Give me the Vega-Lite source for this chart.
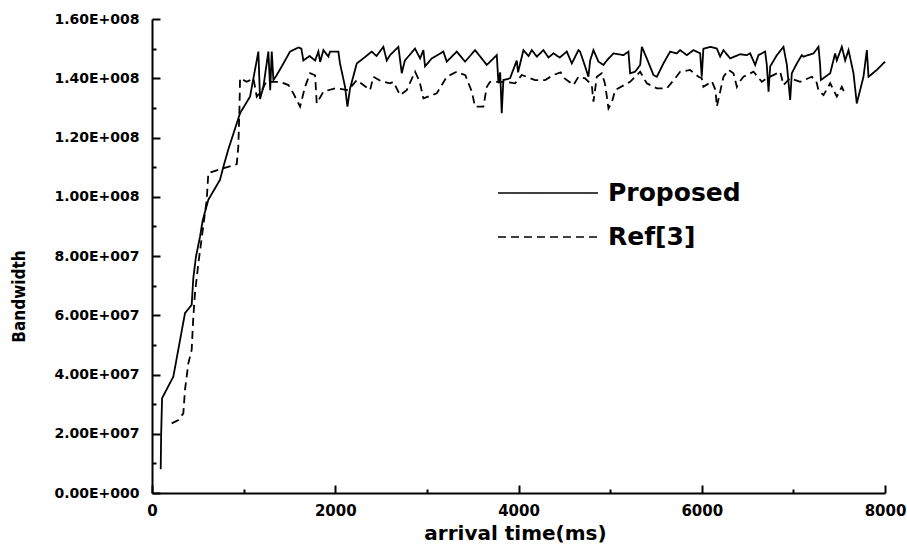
{
  "$schema": "https://vega.github.io/schema/vega-lite/v6.json",
  "width": 733,
  "height": 474,
  "autosize": "none",
  "padding": {"left": 152, "top": 19, "right": 22, "bottom": 53},
  "background": "white",
  "config": {
    "view": {"stroke": null},
    "axis": {"grid": false, "domainColor": "black", "tickColor": "black", "labelColor": "black", "titleColor": "black", "domainWidth": 2, "tickWidth": 2},
    "legend": {"orient": "none", "legendX": 365, "legendY": 143, "symbolType": "M-1.667,0H1.667", "symbolSize": 3600, "symbolStrokeWidth": 1.6, "symbolStrokeColor": "black", "symbolFillColor": "transparent", "labelFont": "DejaVu Sans", "labelFontWeight": "bold", "labelFontSize": 25, "labelColor": "black", "labelOffset": 29, "padding": 0, "rowPadding": 0}
  },
  "data": {
    "values": [
      {"series": "Proposed", "t": 95, "bw": 8000000},
      {"series": "Proposed", "t": 100, "bw": 20000000},
      {"series": "Proposed", "t": 110, "bw": 32000000},
      {"series": "Proposed", "t": 233, "bw": 39300000},
      {"series": "Proposed", "t": 360, "bw": 60700000},
      {"series": "Proposed", "t": 433, "bw": 63500000},
      {"series": "Proposed", "t": 451, "bw": 72600000},
      {"series": "Proposed", "t": 480, "bw": 79800000},
      {"series": "Proposed", "t": 524, "bw": 86500000},
      {"series": "Proposed", "t": 553, "bw": 92000000},
      {"series": "Proposed", "t": 615, "bw": 99000000},
      {"series": "Proposed", "t": 742, "bw": 105700000},
      {"series": "Proposed", "t": 778, "bw": 110000000},
      {"series": "Proposed", "t": 833, "bw": 116000000},
      {"series": "Proposed", "t": 961, "bw": 128200000},
      {"series": "Proposed", "t": 1070, "bw": 133800000},
      {"series": "Proposed", "t": 1161, "bw": 149000000},
      {"series": "Proposed", "t": 1179, "bw": 133000000},
      {"series": "Proposed", "t": 1215, "bw": 137000000},
      {"series": "Proposed", "t": 1270, "bw": 149000000},
      {"series": "Proposed", "t": 1290, "bw": 136000000},
      {"series": "Proposed", "t": 1307, "bw": 149000000},
      {"series": "Proposed", "t": 1325, "bw": 139400000},
      {"series": "Proposed", "t": 1360, "bw": 141000000},
      {"series": "Proposed", "t": 1416, "bw": 144000000},
      {"series": "Proposed", "t": 1507, "bw": 149000000},
      {"series": "Proposed", "t": 1598, "bw": 150400000},
      {"series": "Proposed", "t": 1630, "bw": 150000000},
      {"series": "Proposed", "t": 1652, "bw": 146000000},
      {"series": "Proposed", "t": 1720, "bw": 147500000},
      {"series": "Proposed", "t": 1780, "bw": 146000000},
      {"series": "Proposed", "t": 1816, "bw": 149000000},
      {"series": "Proposed", "t": 1835, "bw": 145500000},
      {"series": "Proposed", "t": 1871, "bw": 149500000},
      {"series": "Proposed", "t": 1925, "bw": 147300000},
      {"series": "Proposed", "t": 1943, "bw": 149000000},
      {"series": "Proposed", "t": 2034, "bw": 149000000},
      {"series": "Proposed", "t": 2052, "bw": 145000000},
      {"series": "Proposed", "t": 2107, "bw": 137100000},
      {"series": "Proposed", "t": 2133, "bw": 130400000},
      {"series": "Proposed", "t": 2162, "bw": 136600000},
      {"series": "Proposed", "t": 2235, "bw": 145000000},
      {"series": "Proposed", "t": 2307, "bw": 146700000},
      {"series": "Proposed", "t": 2398, "bw": 149000000},
      {"series": "Proposed", "t": 2450, "bw": 147500000},
      {"series": "Proposed", "t": 2525, "bw": 150600000},
      {"series": "Proposed", "t": 2562, "bw": 146000000},
      {"series": "Proposed", "t": 2598, "bw": 147800000},
      {"series": "Proposed", "t": 2689, "bw": 150600000},
      {"series": "Proposed", "t": 2726, "bw": 141700000},
      {"series": "Proposed", "t": 2760, "bw": 146000000},
      {"series": "Proposed", "t": 2871, "bw": 150000000},
      {"series": "Proposed", "t": 2926, "bw": 146700000},
      {"series": "Proposed", "t": 2962, "bw": 149500000},
      {"series": "Proposed", "t": 2980, "bw": 144000000},
      {"series": "Proposed", "t": 3053, "bw": 146700000},
      {"series": "Proposed", "t": 3180, "bw": 149000000},
      {"series": "Proposed", "t": 3217, "bw": 145600000},
      {"series": "Proposed", "t": 3326, "bw": 149000000},
      {"series": "Proposed", "t": 3417, "bw": 145600000},
      {"series": "Proposed", "t": 3526, "bw": 149500000},
      {"series": "Proposed", "t": 3654, "bw": 144500000},
      {"series": "Proposed", "t": 3763, "bw": 147800000},
      {"series": "Proposed", "t": 3781, "bw": 138300000},
      {"series": "Proposed", "t": 3800, "bw": 142000000},
      {"series": "Proposed", "t": 3817, "bw": 128200000},
      {"series": "Proposed", "t": 3835, "bw": 139400000},
      {"series": "Proposed", "t": 3908, "bw": 140000000},
      {"series": "Proposed", "t": 3981, "bw": 146000000},
      {"series": "Proposed", "t": 3995, "bw": 142000000},
      {"series": "Proposed", "t": 4054, "bw": 149500000},
      {"series": "Proposed", "t": 4110, "bw": 147500000},
      {"series": "Proposed", "t": 4145, "bw": 149500000},
      {"series": "Proposed", "t": 4200, "bw": 147300000},
      {"series": "Proposed", "t": 4272, "bw": 149500000},
      {"series": "Proposed", "t": 4327, "bw": 147000000},
      {"series": "Proposed", "t": 4381, "bw": 148400000},
      {"series": "Proposed", "t": 4450, "bw": 147000000},
      {"series": "Proposed", "t": 4527, "bw": 149000000},
      {"series": "Proposed", "t": 4582, "bw": 145000000},
      {"series": "Proposed", "t": 4654, "bw": 149500000},
      {"series": "Proposed", "t": 4672, "bw": 149000000},
      {"series": "Proposed", "t": 4727, "bw": 144000000},
      {"series": "Proposed", "t": 4763, "bw": 140500000},
      {"series": "Proposed", "t": 4782, "bw": 146000000},
      {"series": "Proposed", "t": 4818, "bw": 149500000},
      {"series": "Proposed", "t": 4873, "bw": 145600000},
      {"series": "Proposed", "t": 4927, "bw": 144500000},
      {"series": "Proposed", "t": 4964, "bw": 146000000},
      {"series": "Proposed", "t": 5036, "bw": 148400000},
      {"series": "Proposed", "t": 5146, "bw": 147800000},
      {"series": "Proposed", "t": 5200, "bw": 149000000},
      {"series": "Proposed", "t": 5218, "bw": 141700000},
      {"series": "Proposed", "t": 5273, "bw": 142200000},
      {"series": "Proposed", "t": 5328, "bw": 144500000},
      {"series": "Proposed", "t": 5346, "bw": 150600000},
      {"series": "Proposed", "t": 5400, "bw": 146700000},
      {"series": "Proposed", "t": 5473, "bw": 141100000},
      {"series": "Proposed", "t": 5510, "bw": 140500000},
      {"series": "Proposed", "t": 5582, "bw": 145000000},
      {"series": "Proposed", "t": 5655, "bw": 149000000},
      {"series": "Proposed", "t": 5728, "bw": 148400000},
      {"series": "Proposed", "t": 5764, "bw": 149500000},
      {"series": "Proposed", "t": 5837, "bw": 147800000},
      {"series": "Proposed", "t": 5910, "bw": 149500000},
      {"series": "Proposed", "t": 5983, "bw": 148400000},
      {"series": "Proposed", "t": 6000, "bw": 140500000},
      {"series": "Proposed", "t": 6018, "bw": 150000000},
      {"series": "Proposed", "t": 6092, "bw": 150600000},
      {"series": "Proposed", "t": 6165, "bw": 150000000},
      {"series": "Proposed", "t": 6201, "bw": 147300000},
      {"series": "Proposed", "t": 6237, "bw": 149500000},
      {"series": "Proposed", "t": 6310, "bw": 146700000},
      {"series": "Proposed", "t": 6419, "bw": 148100000},
      {"series": "Proposed", "t": 6492, "bw": 147800000},
      {"series": "Proposed", "t": 6528, "bw": 148400000},
      {"series": "Proposed", "t": 6583, "bw": 144500000},
      {"series": "Proposed", "t": 6619, "bw": 147800000},
      {"series": "Proposed", "t": 6692, "bw": 149000000},
      {"series": "Proposed", "t": 6710, "bw": 144500000},
      {"series": "Proposed", "t": 6729, "bw": 135500000},
      {"series": "Proposed", "t": 6747, "bw": 144000000},
      {"series": "Proposed", "t": 6820, "bw": 147800000},
      {"series": "Proposed", "t": 6892, "bw": 150600000},
      {"series": "Proposed", "t": 6929, "bw": 144500000},
      {"series": "Proposed", "t": 6965, "bw": 132700000},
      {"series": "Proposed", "t": 6983, "bw": 141700000},
      {"series": "Proposed", "t": 7038, "bw": 145000000},
      {"series": "Proposed", "t": 7092, "bw": 147800000},
      {"series": "Proposed", "t": 7110, "bw": 147300000},
      {"series": "Proposed", "t": 7220, "bw": 148400000},
      {"series": "Proposed", "t": 7274, "bw": 150600000},
      {"series": "Proposed", "t": 7292, "bw": 144500000},
      {"series": "Proposed", "t": 7300, "bw": 139400000},
      {"series": "Proposed", "t": 7402, "bw": 141700000},
      {"series": "Proposed", "t": 7456, "bw": 148400000},
      {"series": "Proposed", "t": 7474, "bw": 146000000},
      {"series": "Proposed", "t": 7529, "bw": 150600000},
      {"series": "Proposed", "t": 7565, "bw": 146000000},
      {"series": "Proposed", "t": 7602, "bw": 149500000},
      {"series": "Proposed", "t": 7656, "bw": 141700000},
      {"series": "Proposed", "t": 7692, "bw": 131500000},
      {"series": "Proposed", "t": 7765, "bw": 140500000},
      {"series": "Proposed", "t": 7802, "bw": 149500000},
      {"series": "Proposed", "t": 7820, "bw": 140500000},
      {"series": "Proposed", "t": 7911, "bw": 142800000},
      {"series": "Proposed", "t": 8000, "bw": 145600000},
      {"series": "Ref[3]", "t": 215, "bw": 23500000},
      {"series": "Ref[3]", "t": 288, "bw": 24600000},
      {"series": "Ref[3]", "t": 342, "bw": 26900000},
      {"series": "Ref[3]", "t": 360, "bw": 34800000},
      {"series": "Ref[3]", "t": 397, "bw": 43800000},
      {"series": "Ref[3]", "t": 433, "bw": 48300000},
      {"series": "Ref[3]", "t": 451, "bw": 59500000},
      {"series": "Ref[3]", "t": 469, "bw": 67400000},
      {"series": "Ref[3]", "t": 506, "bw": 77500000},
      {"series": "Ref[3]", "t": 597, "bw": 98900000},
      {"series": "Ref[3]", "t": 615, "bw": 108000000},
      {"series": "Ref[3]", "t": 925, "bw": 111000000},
      {"series": "Ref[3]", "t": 942, "bw": 117000000},
      {"series": "Ref[3]", "t": 954, "bw": 129000000},
      {"series": "Ref[3]", "t": 961, "bw": 140000000},
      {"series": "Ref[3]", "t": 1034, "bw": 138800000},
      {"series": "Ref[3]", "t": 1107, "bw": 140000000},
      {"series": "Ref[3]", "t": 1143, "bw": 133800000},
      {"series": "Ref[3]", "t": 1200, "bw": 136000000},
      {"series": "Ref[3]", "t": 1250, "bw": 139000000},
      {"series": "Ref[3]", "t": 1307, "bw": 138800000},
      {"series": "Ref[3]", "t": 1397, "bw": 138800000},
      {"series": "Ref[3]", "t": 1489, "bw": 137700000},
      {"series": "Ref[3]", "t": 1543, "bw": 134900000},
      {"series": "Ref[3]", "t": 1616, "bw": 130400000},
      {"series": "Ref[3]", "t": 1670, "bw": 137100000},
      {"series": "Ref[3]", "t": 1725, "bw": 141700000},
      {"series": "Ref[3]", "t": 1780, "bw": 141000000},
      {"series": "Ref[3]", "t": 1798, "bw": 131500000},
      {"series": "Ref[3]", "t": 1871, "bw": 135500000},
      {"series": "Ref[3]", "t": 2000, "bw": 136600000},
      {"series": "Ref[3]", "t": 2143, "bw": 136000000},
      {"series": "Ref[3]", "t": 2235, "bw": 139400000},
      {"series": "Ref[3]", "t": 2380, "bw": 136000000},
      {"series": "Ref[3]", "t": 2416, "bw": 140500000},
      {"series": "Ref[3]", "t": 2500, "bw": 139000000},
      {"series": "Ref[3]", "t": 2598, "bw": 138300000},
      {"series": "Ref[3]", "t": 2635, "bw": 138800000},
      {"series": "Ref[3]", "t": 2707, "bw": 134300000},
      {"series": "Ref[3]", "t": 2780, "bw": 136000000},
      {"series": "Ref[3]", "t": 2871, "bw": 142200000},
      {"series": "Ref[3]", "t": 2920, "bw": 139000000},
      {"series": "Ref[3]", "t": 2962, "bw": 133200000},
      {"series": "Ref[3]", "t": 3108, "bw": 134900000},
      {"series": "Ref[3]", "t": 3217, "bw": 140500000},
      {"series": "Ref[3]", "t": 3326, "bw": 142200000},
      {"series": "Ref[3]", "t": 3420, "bw": 141000000},
      {"series": "Ref[3]", "t": 3490, "bw": 135500000},
      {"series": "Ref[3]", "t": 3526, "bw": 130400000},
      {"series": "Ref[3]", "t": 3617, "bw": 130400000},
      {"series": "Ref[3]", "t": 3654, "bw": 137100000},
      {"series": "Ref[3]", "t": 3690, "bw": 138800000},
      {"series": "Ref[3]", "t": 3854, "bw": 138800000},
      {"series": "Ref[3]", "t": 3963, "bw": 138300000},
      {"series": "Ref[3]", "t": 4036, "bw": 141100000},
      {"series": "Ref[3]", "t": 4181, "bw": 139400000},
      {"series": "Ref[3]", "t": 4290, "bw": 139400000},
      {"series": "Ref[3]", "t": 4381, "bw": 141100000},
      {"series": "Ref[3]", "t": 4460, "bw": 142000000},
      {"series": "Ref[3]", "t": 4500, "bw": 140000000},
      {"series": "Ref[3]", "t": 4600, "bw": 137700000},
      {"series": "Ref[3]", "t": 4654, "bw": 140500000},
      {"series": "Ref[3]", "t": 4727, "bw": 140000000},
      {"series": "Ref[3]", "t": 4800, "bw": 137700000},
      {"series": "Ref[3]", "t": 4818, "bw": 132100000},
      {"series": "Ref[3]", "t": 4855, "bw": 140500000},
      {"series": "Ref[3]", "t": 4909, "bw": 141700000},
      {"series": "Ref[3]", "t": 4945, "bw": 138000000},
      {"series": "Ref[3]", "t": 4982, "bw": 129800000},
      {"series": "Ref[3]", "t": 5020, "bw": 132000000},
      {"series": "Ref[3]", "t": 5055, "bw": 136000000},
      {"series": "Ref[3]", "t": 5218, "bw": 138800000},
      {"series": "Ref[3]", "t": 5328, "bw": 142200000},
      {"series": "Ref[3]", "t": 5400, "bw": 138300000},
      {"series": "Ref[3]", "t": 5510, "bw": 136600000},
      {"series": "Ref[3]", "t": 5620, "bw": 136600000},
      {"series": "Ref[3]", "t": 5710, "bw": 140000000},
      {"series": "Ref[3]", "t": 5764, "bw": 142200000},
      {"series": "Ref[3]", "t": 5873, "bw": 142800000},
      {"series": "Ref[3]", "t": 5964, "bw": 140500000},
      {"series": "Ref[3]", "t": 6000, "bw": 140000000},
      {"series": "Ref[3]", "t": 6018, "bw": 137100000},
      {"series": "Ref[3]", "t": 6110, "bw": 139000000},
      {"series": "Ref[3]", "t": 6150, "bw": 136000000},
      {"series": "Ref[3]", "t": 6165, "bw": 130400000},
      {"series": "Ref[3]", "t": 6201, "bw": 135500000},
      {"series": "Ref[3]", "t": 6237, "bw": 140500000},
      {"series": "Ref[3]", "t": 6292, "bw": 142800000},
      {"series": "Ref[3]", "t": 6346, "bw": 141700000},
      {"series": "Ref[3]", "t": 6383, "bw": 137100000},
      {"series": "Ref[3]", "t": 6401, "bw": 138300000},
      {"series": "Ref[3]", "t": 6455, "bw": 140500000},
      {"series": "Ref[3]", "t": 6565, "bw": 142200000},
      {"series": "Ref[3]", "t": 6656, "bw": 138800000},
      {"series": "Ref[3]", "t": 6710, "bw": 140000000},
      {"series": "Ref[3]", "t": 6856, "bw": 142200000},
      {"series": "Ref[3]", "t": 6892, "bw": 137700000},
      {"series": "Ref[3]", "t": 6965, "bw": 140000000},
      {"series": "Ref[3]", "t": 7074, "bw": 138800000},
      {"series": "Ref[3]", "t": 7201, "bw": 140500000},
      {"series": "Ref[3]", "t": 7250, "bw": 139000000},
      {"series": "Ref[3]", "t": 7274, "bw": 136000000},
      {"series": "Ref[3]", "t": 7329, "bw": 134300000},
      {"series": "Ref[3]", "t": 7402, "bw": 138300000},
      {"series": "Ref[3]", "t": 7474, "bw": 133800000},
      {"series": "Ref[3]", "t": 7529, "bw": 137100000},
      {"series": "Ref[3]", "t": 7560, "bw": 135000000}
    ]
  },
  "resolve": {
    "scale": {"x": "independent", "y": "independent"},
    "axis": {"x": "independent", "y": "independent"}
  },
  "layer": [
    {
      "transform": [{"filter": "datum.series == 'Proposed'"}],
      "mark": {"type": "line", "color": "black", "strokeWidth": 1.8, "interpolate": "linear"},
      "encoding": {
        "x": {
          "field": "t", "type": "quantitative",
          "scale": {"domain": [0, 8000], "nice": false, "zero": false},
          "axis": {
            "orient": "bottom", "values": [0, 2000, 4000, 6000, 8000], "format": "d",
            "tickSize": -8, "labelPadding": 18,
            "labelFont": "DejaVu Sans", "labelFontWeight": "bold", "labelFontSize": 15,
            "labelFlush": false, "labelOverlap": false,
            "title": "arrival time(ms)", "titleFont": "DejaVu Sans", "titleFontWeight": "bold", "titleFontSize": 20,
            "titleX": 363, "titleY": 46, "titleAlign": "center", "titleBaseline": "alphabetic"
          }
        },
        "y": {
          "field": "bw", "type": "quantitative",
          "scale": {"domain": [0, 160000000], "nice": false, "zero": true},
          "axis": {
            "orient": "left", "values": [0, 20000000, 40000000, 60000000, 80000000, 100000000, 120000000, 140000000, 160000000],
            "labelExpr": "datum.value == 0 ? '0.00E+000' : (datum.value < 100000000 ? format(datum.value / 10000000, '.2f') + 'E+007' : format(datum.value / 100000000, '.2f') + 'E+008')",
            "tickSize": -8, "labelPadding": 21,
            "labelFont": "DejaVu Sans", "labelFontWeight": "bold", "labelFontSize": 14,
            "labelFlush": false, "labelOverlap": false,
            "title": "Bandwidth", "titleFont": "DejaVu Sans Condensed", "titleFontWeight": "bold", "titleFontSize": 17,
            "titleX": -133, "titleY": 277, "titleAlign": "center", "titleBaseline": "middle", "titleAngle": -90
          }
        },
        "strokeDash": {
          "field": "series", "type": "nominal",
          "scale": {"domain": ["Proposed", "Ref[3]"], "range": [[1, 0], [8, 5]]},
          "legend": {"title": null}
        }
      }
    },
    {
      "transform": [{"filter": "datum.series == 'Ref[3]'"}],
      "mark": {"type": "line", "color": "black", "strokeWidth": 1.8, "interpolate": "linear"},
      "encoding": {
        "x": {
          "field": "t", "type": "quantitative",
          "scale": {"domain": [0, 8000], "nice": false, "zero": false},
          "axis": {"orient": "bottom", "values": [1000, 3000, 5000, 7000], "tickSize": -4, "labels": false, "domain": false, "title": null}
        },
        "y": {
          "field": "bw", "type": "quantitative",
          "scale": {"domain": [0, 160000000], "nice": false, "zero": true},
          "axis": {"orient": "left", "values": [10000000, 30000000, 50000000, 70000000, 90000000, 110000000, 130000000, 150000000], "tickSize": -4, "labels": false, "domain": false, "title": null}
        },
        "strokeDash": {
          "field": "series", "type": "nominal",
          "scale": {"domain": ["Proposed", "Ref[3]"], "range": [[1, 0], [8, 5]]},
          "legend": {"title": null}
        }
      }
    }
  ]
}
